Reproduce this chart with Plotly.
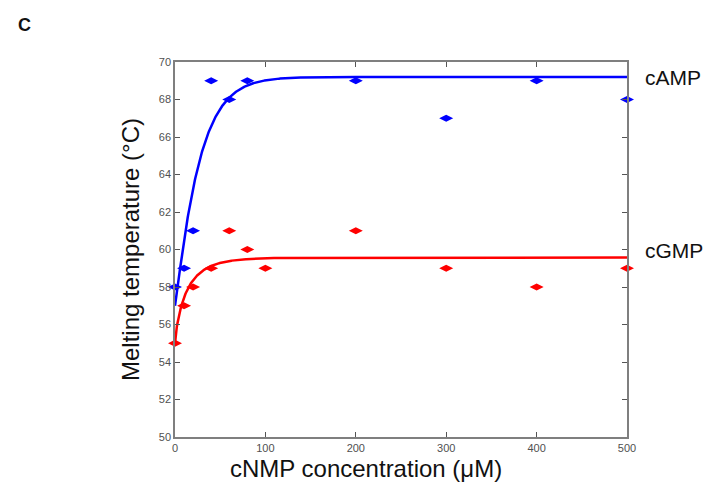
import numpy as np
import plotly.graph_objects as go

# Measured melting temperatures (°C) vs cNMP concentration (µM)
camp_conc = [0, 10, 20, 40, 60, 80, 200, 300, 400, 500]
camp_tm = [58, 59, 61, 69, 68, 69, 69, 67, 69, 68]

cgmp_conc = [0, 10, 20, 40, 60, 80, 100, 200, 300, 400, 500]
cgmp_tm = [55, 57, 58, 59, 61, 60, 59, 61, 59, 58, 59]

x_ticks = [0, 100, 200, 300, 400, 500]
y_ticks = [50, 52, 54, 56, 58, 60, 62, 64, 66, 68, 70]

# Saturation fit parameters: Tm = base + span * (1 - exp(-(c/k)^n))
camp_fit = dict(base=57.0, span=12.2, k=27.0, n=1.1)
cgmp_fit = dict(base=55.0, span=4.57, k=14.0, n=0.8)


def saturation(c, base, span, k, n):
    return base + span * (1.0 - np.exp(-np.power(c / k, n)))


c_grid = np.linspace(0, 500, 1001)

BLUE = "#0000ff"
RED = "#ff0000"
FONT = "Liberation Sans, Arial, sans-serif"

fig = go.Figure()

for conc, tm, fit, color in [
    (camp_conc, camp_tm, camp_fit, BLUE),
    (cgmp_conc, cgmp_tm, cgmp_fit, RED),
]:
    fig.add_trace(go.Scatter(
        x=c_grid, y=saturation(c_grid, **fit), mode="lines",
        line=dict(color=color, width=2.5), hoverinfo="skip",
    ))
    fig.add_trace(go.Scatter(
        x=conc, y=tm, mode="markers",
        marker=dict(symbol="diamond-wide", size=10, color=color,
                    line=dict(width=0)),
        cliponaxis=False,
    ))

axis_common = dict(
    showline=True, linecolor="#7f7f7f", linewidth=1.5, mirror="ticks",
    ticks="inside", ticklen=5, tickwidth=1, tickcolor="#555555",
    showgrid=False, zeroline=False,
    tickfont=dict(family=FONT, size=11, color="#505050"),
)

fig.update_xaxes(range=[0, 500], tickvals=x_ticks,
                 ticktext=[str(v) for v in x_ticks], **axis_common)
fig.update_yaxes(
    range=[50, 70], tickvals=y_ticks, ticktext=[str(v) for v in y_ticks],
    title=dict(text="Melting temperature (°C)", standoff=12,
               font=dict(family=FONT, size=24, color="#111111")),
    **axis_common,
)

# plot area geometry in pixels (for placing free text)
L, R, T, B = 175, 627, 62, 437
W, H = R - L, B - T


def px(x, y):
    return (x - L) / W, (B - y) / H


label_font = dict(family=FONT, size=21, color="#111111")
fig.add_annotation(x=1.035, y=69.2, xref="paper", yref="y", text="cAMP",
                   showarrow=False, xanchor="left", yanchor="middle", font=label_font)
fig.add_annotation(x=1.035, y=59.95, xref="paper", yref="y", text="cGMP",
                   showarrow=False, xanchor="left", yanchor="middle", font=label_font)

xt, yt = px(366, 468)
fig.add_annotation(x=xt, y=yt, xref="paper", yref="paper",
                   text="cNMP concentration (μM)", showarrow=False,
                   xanchor="center", yanchor="middle",
                   font=dict(family=FONT, size=24, color="#111111"))

xc, yc = px(16, 25)
fig.add_annotation(x=xc, y=yc, xref="paper", yref="paper", text="<b>C</b>",
                   showarrow=False, xanchor="left", yanchor="middle",
                   font=dict(family=FONT, size=18, color="#111111"))

fig.update_layout(
    width=719, height=494,
    margin=dict(l=L, r=719 - R, t=T, b=494 - B),
    paper_bgcolor="white", plot_bgcolor="white",
    showlegend=False,
)

fig.write_html("out.html")
